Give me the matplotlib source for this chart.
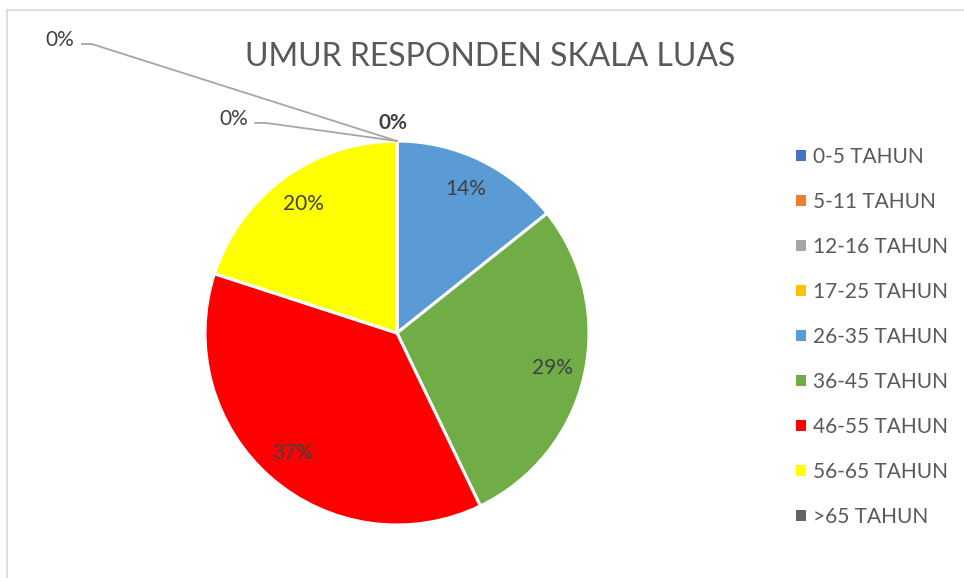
import numpy as np
import matplotlib
matplotlib.use("Agg")
from matplotlib import pyplot as plt
from matplotlib.lines import Line2D
from matplotlib.patches import Patch

plt.rcParams['font.family'] = ['Lato', 'DejaVu Sans']

categories = ['0-5 TAHUN', '5-11 TAHUN', '12-16 TAHUN', '17-25 TAHUN', '26-35 TAHUN',
              '36-45 TAHUN', '46-55 TAHUN', '56-65 TAHUN', '>65 TAHUN']
counts = [0, 0, 0, 0, 5, 10, 13, 7, 0]
colors = ['#4472C4', '#ED7D31', '#A5A5A5', '#FFC000', '#5B9BD5',
          '#70AD47', '#FF0000', '#FFFF00', '#636363']
title = 'UMUR RESPONDEN SKALA LUAS'

W, H = 964, 578
fig = plt.figure(figsize=(W / 100, H / 100), dpi=100)

# pie axes in pixel terms: centre (397,333), radius 192
cx, cy, R = 397, 333, 192
ax = fig.add_axes([(cx - R) / W, (H - cy - R) / H, 2 * R / W, 2 * R / H])

wedges, _ = ax.pie(counts, colors=colors, startangle=90, counterclock=False,
                   wedgeprops=dict(edgecolor='white', linewidth=2.2))
ax.set_xlim(-1, 1)
ax.set_ylim(-1, 1)
ax.set_aspect('equal')

total = sum(counts)
txtcol = '#404040'
for w, c in zip(wedges, counts):
    if c == 0:
        continue
    mid = np.deg2rad((w.theta1 + w.theta2) / 2)
    ax.text(0.83 * np.cos(mid), 0.83 * np.sin(mid), f'{c / total:.0%}',
            ha='center', va='center', fontsize=15, color=txtcol)

# labels for the empty slices (Excel stacks them at the top)
zero = [w for w, c in zip(wedges, counts) if c == 0]
a = np.deg2rad(zero[0].theta1)
px, py = np.cos(a), np.sin(a)
ax.text(-0.02, 1.095, '0%', ha='center', va='center', fontsize=15,
        color=txtcol, fontweight='bold', clip_on=False)
lead = '#A6A6A6'
for (tx, ty, x0, x1, yl) in [(-0.85, 1.115, -0.739, -0.682, 1.094),
                            (-1.757, 1.525, -1.641, -1.589, 1.505)]:
    ax.text(tx, ty, '0%', ha='center', va='center', fontsize=15,
            color=txtcol, clip_on=False)
    ax.plot([x0, x1, px], [yl, yl, py], color=lead, lw=1.3, clip_on=False)

fig.text(490 / W, 1 - 57 / H, title, ha='center', va='center',
         fontsize=23, color='#595959')

handles = [Patch(facecolor=c, edgecolor='none') for c in colors]
leg = fig.legend(handles, categories, loc='upper left',
                 bbox_to_anchor=(777 / W, 1 - 128 / H), frameon=False,
                 fontsize=15, handlelength=0.48, handleheight=0.48,
                 handletextpad=0.35, labelspacing=1.2)
for t in leg.get_texts():
    t.set_color('#595959')

# chart area border (top and left edges visible)
fig.add_artist(Line2D([7 / W, 1], [1 - 10 / H, 1 - 10 / H], color='#D9D9D9', lw=1.2))
fig.add_artist(Line2D([7 / W, 7 / W], [0, 1 - 10 / H], color='#D9D9D9', lw=1.2))

fig.savefig('out.png', dpi=100)
